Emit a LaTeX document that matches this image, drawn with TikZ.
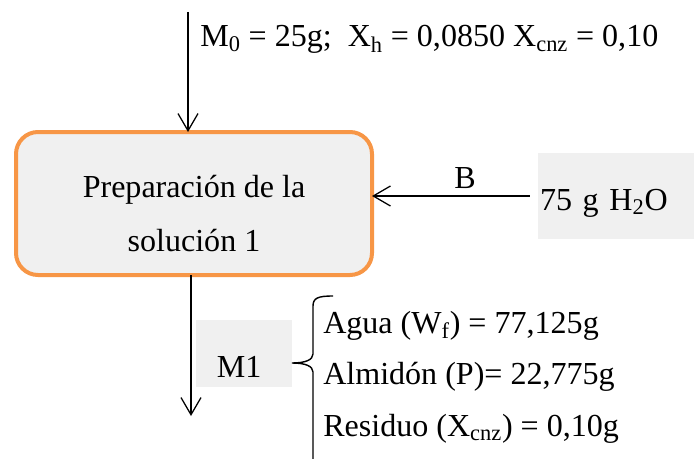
\documentclass[tikz,border=0pt]{standalone}
\usepackage{fontspec}
\setmainfont{Liberation Serif}
\usetikzlibrary{arrows.meta}
\definecolor{boxorange}{HTML}{F79646}
\definecolor{boxgray}{HTML}{F0F0F0}
\begin{document}
\begin{tikzpicture}[
    every node/.style={font=\fontsize{22.8}{27}\selectfont},
    flow/.style={-{Straight Barb[length=0.43cm,width=0.5cm]},line width=0.9pt},
    procbox/.style={draw=boxorange,fill=boxgray,line width=0.1cm,rounded corners=0.55cm,outer sep=0pt},
    graybox/.style={fill=boxgray,inner ysep=0pt,text depth=0pt,align=left},
    datatext/.style={anchor=base west,inner sep=0pt}]
    \useasboundingbox (0,0) rectangle (17.35,11.45);
    \node[procbox,minimum width=8.9cm,minimum height=3.575cm,align=center,text height=2.41cm,text depth=0pt,font=\fontsize{22.8}{38.6}\selectfont] (prep) at (4.85,6.3625) {Preparación de la\\solución 1};
    \node[graybox,minimum width=3.9cm,minimum height=2.15cm,inner xsep=0.05cm,text width=3.8cm,text height=0.7cm] (water) at (15.4,6.55) {75 g H\textsubscript{2}O};
    \node[graybox,minimum width=2.4cm,minimum height=1.675cm,inner xsep=0.52cm,text width=1.36cm,text height=1.175cm] (m1) at (6.1,2.6125) {M1};
    \coordinate (feedin) at (4.7,11.15);
    \coordinate (bsrc) at ([xshift=-0.2cm]water.west);
    \coordinate (out1) at (4.775,1.05);
    \coordinate (brace) at (7.3,2.375);
    \draw[flow] (feedin) -- (feedin |- prep.north);
    \node[datatext] (feed) at (5.0,10.2825) {M\textsubscript{0} = 25g;\ \ X\textsubscript{h} = 0,0850 X\textsubscript{cnz} = 0,10};
    \draw[flow] (bsrc) -- (bsrc -| prep.east) node[above,pos=.41,inner sep=5pt] (blabel) {B};
    \draw[flow] (prep.south -| out1) -- (out1);
    \draw[line width=1pt] (8.325,4.05) .. controls (7.95,4.05) and (7.825,4.0) .. (7.825,3.8) -- (7.825,2.6) .. controls (7.825,2.45) and (7.625,2.375) .. (brace) .. controls (7.625,2.375) and (7.825,2.3) .. (7.825,2.15) -- (7.825,-0.3);
    \node[datatext] (agua) at (8.075,3.125) {Agua (W\textsubscript{f}) = 77,125g};
    \node[datatext] (almidon) at (8.075,1.85) {Almidón (P)= 22,775g};
    \node[datatext] (residuo) at (8.075,0.55) {Residuo (X\textsubscript{cnz}) = 0,10g};
\end{tikzpicture}
\end{document}
